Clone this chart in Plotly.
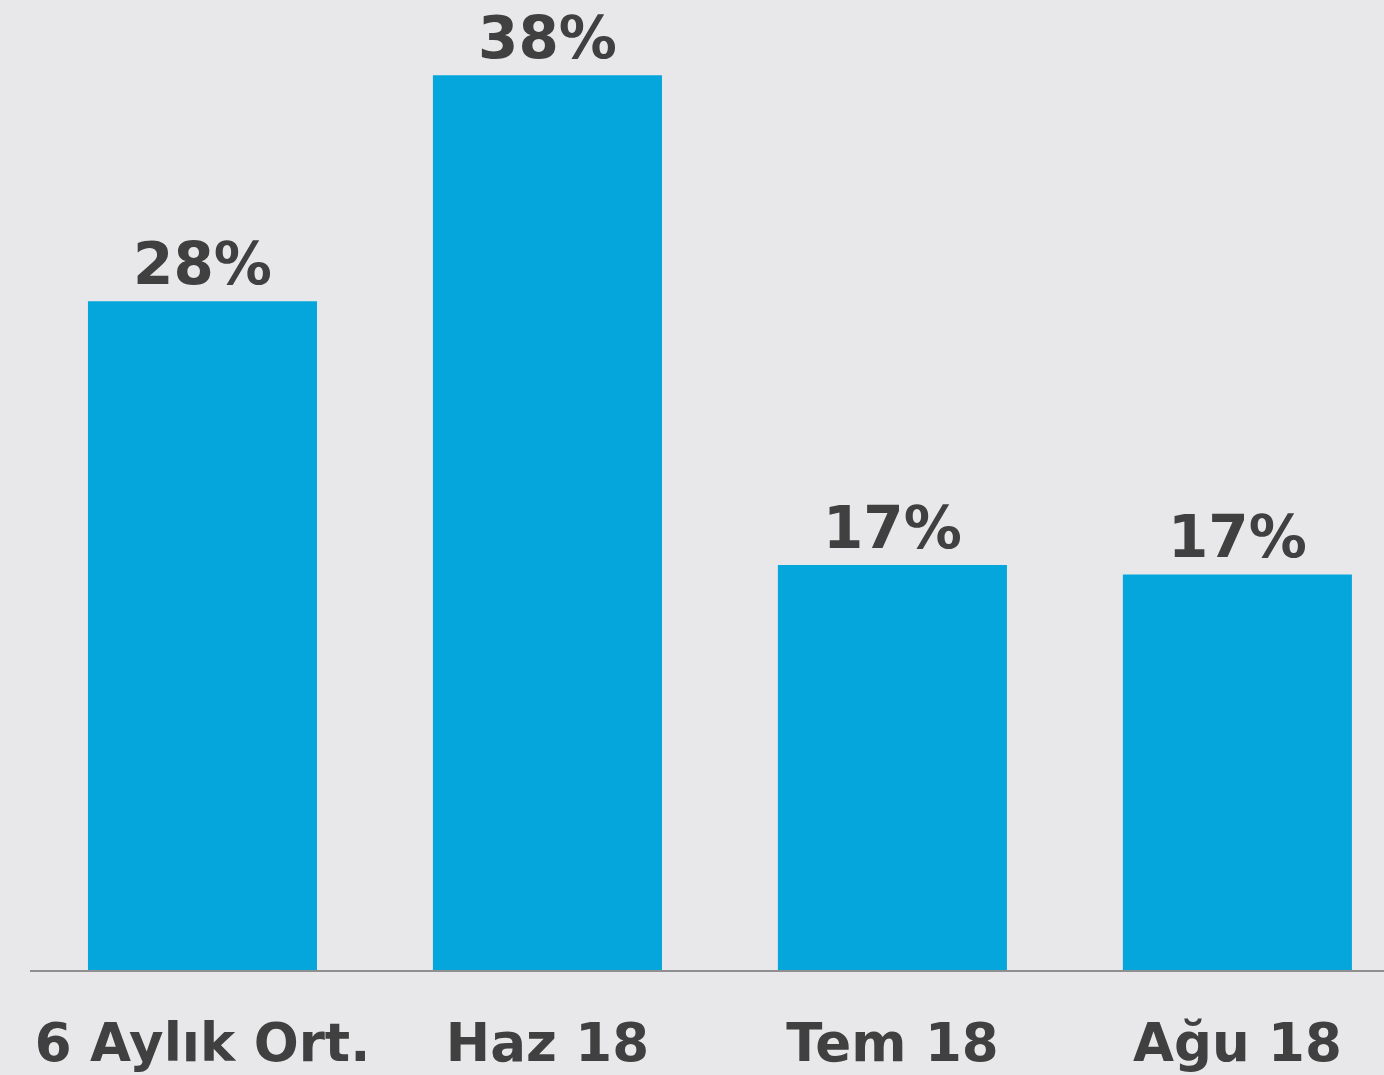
import plotly.graph_objects as go

categories = ["6 Aylık Ort.", "Haz 18", "Tem 18", "Ağu 18"]
values = [28.4, 38.0, 17.2, 16.8]
labels = [f"{round(v)}%" for v in values]

fig = go.Figure(
    go.Bar(
        x=categories,
        y=values,
        text=labels,
        textposition="outside",
        texttemplate="%{text}",
        textfont=dict(family="DejaVu Sans", size=58, color="#404040", weight="bold"),
        marker=dict(color="#05a6dc", line=dict(width=0)),
        cliponaxis=False,
        hoverinfo="skip",
    )
)

fig.update_layout(
    width=1384,
    height=1075,
    margin=dict(l=30, r=0, t=0, b=105),
    paper_bgcolor="#e8e8ea",
    plot_bgcolor="rgba(0,0,0,0)",
    bargap=0.336,
    showlegend=False,
    xaxis=dict(
        range=[-0.5, 3.425],
        showline=True,
        linecolor="#8f8f8f",
        linewidth=2,
        showgrid=False,
        zeroline=False,
        ticks="outside",
        ticklen=25,
        tickcolor="rgba(0,0,0,0)",
        tickfont=dict(family="DejaVu Sans", size=53, color="#404040", weight="bold"),
        fixedrange=True,
    ),
    yaxis=dict(
        range=[0, 41.2],
        visible=False,
        showgrid=False,
        zeroline=False,
        fixedrange=True,
    ),
)

fig.write_html(
    "out.html",
    config={"displayModeBar": False},
    post_script="document.body.style.margin='0';document.body.style.overflow='hidden';document.body.style.background='#e8e8ea';",
)
